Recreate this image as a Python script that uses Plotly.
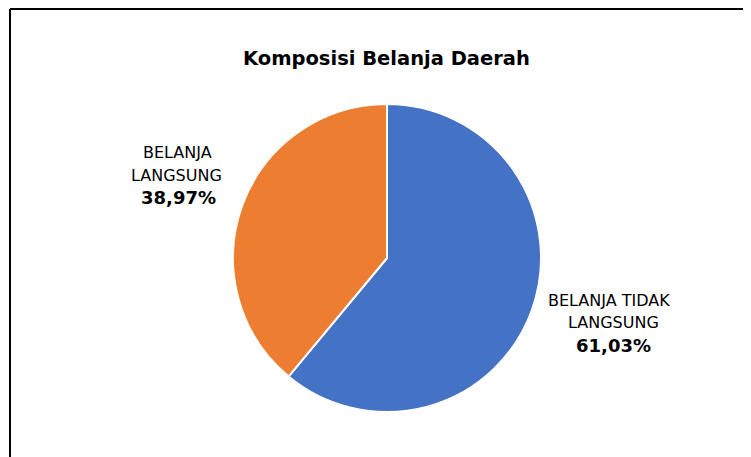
import plotly.graph_objects as go

categories = ["BELANJA TIDAK LANGSUNG", "BELANJA LANGSUNG"]
values = [61.03, 38.97]
colors = ["#4472C4", "#ED7D31"]
title_text = "Komposisi Belanja Daerah"

W, H = 751, 457
OFF = 8  # page body margin offset
cx, cy, r = 387, 258, 154

def px(x):
    return (x - OFF) / W

def py(y):
    return 1 - (y - OFF) / H

fig = go.Figure(go.Pie(
    labels=categories, values=values, sort=False, direction="clockwise", rotation=0,
    marker=dict(colors=colors, line=dict(color="white", width=2)),
    textinfo="none", hoverinfo="label+percent", showlegend=False,
    domain=dict(x=[px(cx - r), px(cx + r)], y=[py(cy + r), py(cy - r)]),
))

def fmt(v):
    return f"{v:.2f}".replace(".", ",") + "%"

font = "DejaVu Sans, Verdana, sans-serif"
ann = []
def add(text, x, y, size=16, bold=False):
    ann.append(dict(text=f"<b>{text}</b>" if bold else text, x=px(x), y=py(y),
                    xref="paper", yref="paper", showarrow=False, xanchor="center", yanchor="middle",
                    font=dict(family=font, size=size, color="#000000")))

add(title_text, 386, 59, size=19.5, bold=True)
add("BELANJA", 177, 152)
add("LANGSUNG", 176, 175)
add(fmt(values[1]), 178, 198, size=18, bold=True)
add("BELANJA TIDAK", 609, 300)
add("LANGSUNG", 613, 322)
add(fmt(values[0]), 613, 345, size=18, bold=True)

shapes = [
    dict(type="line", xref="paper", yref="paper", x0=px(10), x1=1.01, y0=py(9), y1=py(9),
         line=dict(color="black", width=2)),
    dict(type="line", xref="paper", yref="paper", x0=px(10), x1=px(10), y0=py(9), y1=-0.01,
         line=dict(color="black", width=2)),
]

fig.update_layout(width=W, height=H, margin=dict(l=0, r=0, t=0, b=0),
                  paper_bgcolor="white", plot_bgcolor="white",
                  annotations=ann, shapes=shapes)
fig.write_html("out.html")
